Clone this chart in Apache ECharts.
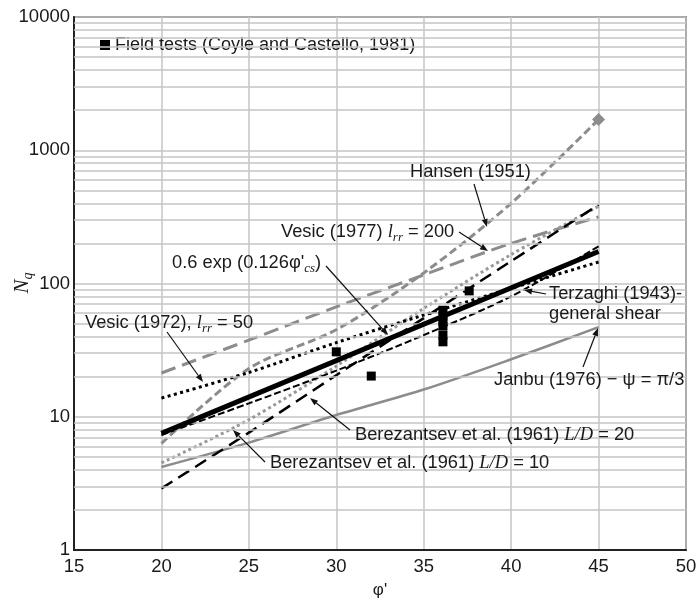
<!DOCTYPE html>
<html><head><meta charset="utf-8">
<script src="https://cdn.jsdelivr.net/npm/echarts@6/dist/echarts.min.js"></script>
<style>html,body{margin:0;padding:0;background:#fff}#c{width:700px;height:602px}</style>
</head><body><div id="c"></div>
<script>
// ---- data ----
const phiGrid = [20, 25, 30, 35, 40, 45];
const phiEnds = [20, 45];
const nqFit = [7.5, 174];                       // 0.6 exp(0.126 phi'cs)
const nqVesic72 = [13.8, 21.5, 36, 58, 92, 145];  // Vesic (1972) Irr = 50
const nqVesic77 = [21.3, 37.6, 66.8, 116, 200, 316]; // Vesic (1977) Irr = 200
const nqHansen = [6.3, 23, 45, 120, 400, 1700];   // Hansen (1951)
const nqTerzaghi = [7.3, 12.6, 22.2, 41, 80, 190]; // Terzaghi (1943)
const nqBerez20 = [2.9, 7.6, 20.5, 55, 147, 390]; // Berezantsev L/D = 20
const nqBerez10 = [4.5, 9.5, 24, 65, 165, 380];   // Berezantsev L/D = 10
const nqJanbu = [4.2, 6.4, 10.3, 16, 27, 47];     // Janbu (1976)
const fieldPhi = [30, 32, 36.1, 36.1, 36.1, 36.1, 36.1, 36.1, 37.6];
const fieldNq = [30.7, 20.2, 63, 57, 52, 48, 41, 36.5, 88];
const minorY = [2,3,4,5,6,7,8,9,20,30,40,50,60,70,80,90,200,300,400,500,600,700,800,900,2000,3000,4000,5000,6000,7000,8000,9000];
const fieldName = 'Field tests (Coyle and Castello, 1981)';

const SANS = 'Liberation Sans';
const SERIF = 'Liberation Serif';
const GRAY = '#8c8c8c';
const FS = 18.3;
const zip = (xs, ys) => xs.map((x, i) => [x, ys[i]]);

const chart = echarts.init(document.getElementById('c'));

const R = {
  a: {fontSize: FS, fontFamily: SANS, lineHeight: 24, fill: '#1a1a1a'},
  i: {fontSize: 18.5, fontFamily: SERIF, fontStyle: 'italic', lineHeight: 24, fill: '#1a1a1a'},
  s: {fontSize: 13, fontFamily: SERIF, fontStyle: 'italic', lineHeight: 10, verticalAlign: 'bottom', fill: '#1a1a1a'}
};
function txt(x, y, text) {
  return {type: 'text', x: x, y: y, z: 100, silent: true,
    style: {text: text, rich: R, font: FS + 'px ' + SANS, fill: '#1a1a1a', align: 'left', verticalAlign: 'middle'}};
}
function arrow(x1, y1, x2, y2) {
  const ang = Math.atan2(y2 - y1, x2 - x1), L = 8, W = 3;
  const bx = x2 - L * Math.cos(ang), by = y2 - L * Math.sin(ang);
  const px = -Math.sin(ang) * W, py = Math.cos(ang) * W;
  return [
    {type: 'line', z: 100, silent: true, shape: {x1: x1, y1: y1, x2: bx, y2: by}, style: {stroke: '#111', lineWidth: 1.2}},
    {type: 'polygon', z: 100, silent: true, shape: {points: [[x2, y2], [bx + px, by + py], [bx - px, by - py]]}, style: {fill: '#111'}}
  ];
}

const graphics = [
  txt(410, 172, '{a|Hansen (1951)}'),
  ...arrow(474, 184, 487, 227),
  txt(281, 232, '{a|Vesic (1977) }{i|l}{s|rr}{a| = 200}'),
  ...arrow(459, 232, 488, 251),
  txt(172, 263, '{a|0.6 exp (0.126φ\'}{s|cs}{a|)}'),
  ...arrow(326, 266, 388, 335),
  txt(85, 323, '{a|Vesic (1972), }{i|l}{s|rr}{a| = 50}'),
  ...arrow(167, 332, 203, 382),
  txt(549, 294, '{a|Terzaghi (1943)-}'),
  txt(549, 314, '{a|general shear}'),
  ...arrow(546, 294, 524, 290),
  txt(494, 380, '{a|Janbu (1976) − ψ = π/3}'),
  ...arrow(583, 367, 598, 328),
  txt(355, 435, '{a|Berezantsev et al. (1961) }{i|L/D}{a| = 20}'),
  ...arrow(350, 430, 310, 398),
  txt(270, 463, '{a|Berezantsev et al. (1961) }{i|L/D}{a| = 10}'),
  ...arrow(265, 462, 233, 430),
  {type: 'text', x: 22, y: 283, rotation: Math.PI / 2, z: 100, silent: true,
    style: {text: '{n|N}{q|q}', align: 'center', verticalAlign: 'middle',
      rich: {n: {fontSize: 21, fontFamily: SERIF, fontStyle: 'italic', lineHeight: 26, fill: '#1a1a1a'},
             q: {fontSize: 14, fontFamily: SERIF, fontStyle: 'italic', lineHeight: 14, verticalAlign: 'bottom', fill: '#1a1a1a'}}}}
];

const hansenData = zip(phiGrid, nqHansen).map((p, i, arr) =>
  i === arr.length - 1 ? {value: p, symbol: 'diamond', symbolSize: 13, itemStyle: {color: GRAY}} : {value: p, symbol: 'none'});

const option = {
  animation: false,
  backgroundColor: '#fff',
  grid: {left: 74, right: 14, top: 17, bottom: 52, outerBoundsMode: 'none', containLabel: false,
    show: true, borderColor: '#333', borderWidth: 1.5, backgroundColor: 'transparent'},
  legend: {data: [{name: fieldName, icon: 'rect', itemStyle: {color: '#000', opacity: 1}}], left: 100, top: 36, padding: 0, itemWidth: 10, itemHeight: 10, itemGap: 5,
    textStyle: {fontSize: 18, fontFamily: SANS, color: '#1a1a1a', padding: [0, 0, 0, 0]}},
  xAxis: {type: 'value', min: 15, max: 50, interval: 5,
    name: 'φ\'', nameLocation: 'middle', nameGap: 32, nameTextStyle: {fontSize: 17, fontFamily: SANS, color: '#1a1a1a'},
    axisLine: {lineStyle: {color: '#222', width: 2}}, axisTick: {show: false},
    axisLabel: {fontSize: 18.5, fontFamily: SANS, color: '#1a1a1a', margin: 7},
    splitLine: {show: true, lineStyle: {color: '#c4c4c4', width: 1.5}}},
  yAxis: {type: 'log', logBase: 10, min: 1, max: 10000,
    axisLine: {show: true, lineStyle: {color: '#222', width: 2}}, axisTick: {show: false},
    axisLabel: {fontSize: 18.5, fontFamily: SANS, color: '#1a1a1a', margin: 4, formatter: v => String(Math.round(v))},
    splitLine: {show: true, lineStyle: {color: '#c4c4c4', width: 1.5}}},
  graphic: graphics,
  series: [
    {type: 'line', data: [], silent: true, z: 1,
      markLine: {silent: true, symbol: 'none', animation: false, label: {show: false},
        lineStyle: {color: '#c4c4c4', width: 1.5, type: 'solid'}, data: minorY.map(v => ({yAxis: v}))}},
    {name: 'Janbu', type: 'line', data: zip(phiGrid, nqJanbu), smooth: 0.3, symbol: 'none', z: 3,
      lineStyle: {color: GRAY, width: 2.5}},
    {name: 'Vesic77', type: 'line', data: zip(phiGrid, nqVesic77), smooth: 0.3, symbol: 'none', z: 3,
      lineStyle: {color: GRAY, width: 3, type: [15, 7]}},
    {name: 'Hansen', type: 'line', data: hansenData, smooth: 0.3, symbol: 'none', z: 3,
      lineStyle: {color: GRAY, width: 3, type: [8, 4]}},
    {name: 'Berez10', type: 'line', data: zip(phiGrid, nqBerez10), smooth: 0.3, symbol: 'none', z: 3,
      lineStyle: {color: '#999', width: 3, type: [3, 3]}},
    {name: 'Berez20', type: 'line', data: zip(phiGrid, nqBerez20), smooth: 0.3, symbol: 'none', z: 4,
      lineStyle: {color: '#000', width: 2.5, type: [13, 7]}},
    {name: 'Vesic72', type: 'line', data: zip(phiGrid, nqVesic72), smooth: 0.3, symbol: 'none', z: 4,
      lineStyle: {color: '#000', width: 3, type: [3, 3.5]}},
    {name: 'Terzaghi', type: 'line', data: zip(phiGrid, nqTerzaghi), smooth: 0.3, symbol: 'none', z: 4,
      lineStyle: {color: '#000', width: 2, type: [7, 3]}},
    {name: 'Fit', type: 'line', data: zip(phiEnds, nqFit), symbol: 'none', z: 5,
      lineStyle: {color: '#000', width: 5}},
    {name: fieldName, type: 'scatter', data: zip(fieldPhi, fieldNq), symbol: 'rect', symbolSize: 9, z: 6,
      itemStyle: {color: '#000', opacity: 1}}
  ]
};
chart.setOption(option);
</script>
</body></html>
